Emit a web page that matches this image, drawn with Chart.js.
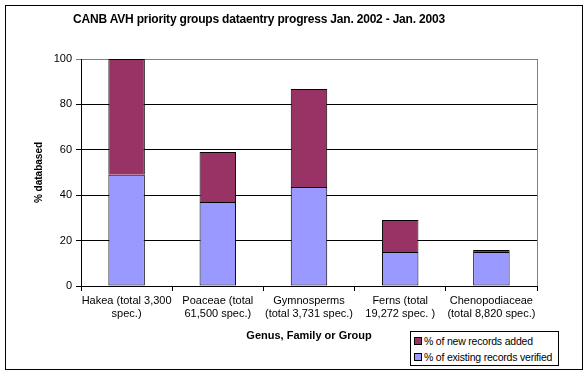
<!DOCTYPE html>
<html lang="en">
<head>
<meta charset="UTF-8">
<title>CANB AVH priority groups dataentry progress</title>
<style>
    body {
        margin: 0;
        background: #fff;
        font-family: 'Liberation Sans', Arial, sans-serif;
    }

    .wrap {
        position: relative;
        width: 586px;
        height: 374px;
    }

    .frame {
        position: absolute;
        left: 5px;
        top: 5px;
        width: 576px;
        height: 363px;
        border: 1px solid #000;
        pointer-events: none;
    }

    .title {
        position: absolute;
        left: 59px;
        width: 400px;
        top: 12px;
        text-align: center;
        font-weight: bold;
        font-size: 12px;
        white-space: nowrap;
        letter-spacing: -0.2px;
    }

    .legend {
        position: absolute;
        left: 410px;
        top: 331px;
        width: 149px;
        height: 35px;
        border: 1px solid #000;
        background: #fff;
        font-size: 10.5px;
        letter-spacing: -0.2px;
        padding: 1px 0 0 3px;
        box-sizing: border-box;
    }

    .legend div {
        height: 16px;
        line-height: 16px;
        white-space: nowrap;
    }

    .legend span {
        display: inline-block;
        width: 6px;
        height: 6px;
        border: 1px solid #000;
        margin-right: 2px;
    }
</style>
<script src="https://cdn.jsdelivr.net/npm/chart.js"></script>
</head>
<body>
<div class="wrap">
    <canvas id="chart" width="586" height="374"></canvas>
    <div class="frame"></div>
    <div class="title">CANB AVH priority groups dataentry progress Jan. 2002 - Jan. 2003</div>
    <div class="legend" id="legend"></div>
</div>

<script>
    // data
    const categories = [
        ['Hakea (total 3,300', 'spec.)'],
        ['Poaceae (total', '61,500 spec.)'],
        ['Gymnosperms', '(total 3,731 spec.)'],
        ['Ferns (total', '19,272 spec. )'],
        ['Chenopodiaceae', '(total 8,820 spec.)']
    ];
    const verified = [49, 37, 43.6, 15, 15];
    const added = [51, 22, 43.2, 14.1, 0.9];

    const seriesNames = ['% of existing records verified', '% of new records added'];
    const seriesColors = ['#9999FF', '#993366'];

    // plot box edges in the reference
    const plotLeft = 81, plotRight = 537, plotTop = 59, plotBottom = 286;

    const frameLines = {
        id: 'frameLines',
        afterDraw(chart) {
            const a = chart.chartArea, c = chart.ctx;
            c.save();
            c.strokeStyle = '#808080';
            c.lineWidth = 1;
            c.beginPath();
            c.moveTo(Math.round(a.right) + 0.5, a.top);
            c.lineTo(Math.round(a.right) + 0.5, a.bottom);
            c.stroke();
            c.restore();
        }
    };

    const font = { family: "'Liberation Sans', Arial, sans-serif", size: 11 };

    new Chart(document.getElementById('chart'), {
        type: 'bar',
        data: {
            labels: categories,
            datasets: [
                {
                    label: seriesNames[0],
                    data: verified,
                    backgroundColor: seriesColors[0],
                    borderColor: '#000',
                    borderWidth: 1,
                    borderSkipped: false
                },
                {
                    label: seriesNames[1],
                    data: added,
                    backgroundColor: seriesColors[1],
                    borderColor: '#000',
                    borderWidth: 1,
                    borderSkipped: 'bottom',
                    clip: false
                }
            ]
        },
        options: {
            responsive: false,
            animation: false,
            devicePixelRatio: 1,
            layout: { padding: { left: 0, right: 586 - plotRight, top: plotTop, bottom: 0 } },
            datasets: { bar: { barPercentage: 0.4, categoryPercentage: 1 } },
            plugins: {
                legend: { display: false },
                tooltip: { enabled: false }
            },
            scales: {
                x: {
                    stacked: true,
                    offset: true,
                    afterFit: s => { s.height = 374 - plotBottom; },
                    grid: { offset: true, drawOnChartArea: false, drawTicks: true, tickLength: 5, color: '#000' },
                    border: { color: '#000', width: 1 },
                    ticks: { color: '#000', font: font, maxRotation: 0, autoSkip: false, padding: 3 },
                    title: {
                        display: true,
                        text: 'Genus, Family or Group',
                        color: '#000',
                        font: { family: font.family, size: 11, weight: 'bold' },
                        padding: { top: 0, bottom: 31 }
                    }
                },
                y: {
                    stacked: true,
                    min: 0,
                    max: 100,
                    afterFit: s => { s.width = plotLeft; },
                    grid: {
                        color: c => (c.tick && c.tick.value === 100 ? '#808080' : '#000'),
                        tickLength: 5
                    },
                    border: { color: '#000', width: 1 },
                    ticks: { stepSize: 20, color: '#000', font: font, padding: 4 },
                    title: {
                        display: true,
                        text: '% databased',
                        color: '#000',
                        font: { family: font.family, size: 10, weight: 'bold' },
                        padding: { top: 33, bottom: 0 }
                    }
                }
            }
        },
        plugins: [frameLines]
    });

    // legend box, newest series on top as in the reference
    const legend = document.getElementById('legend');
    [1, 0].forEach(i => {
        const row = document.createElement('div');
        row.innerHTML = '<span style="background:' + seriesColors[i] + '"></span>' + seriesNames[i];
        legend.appendChild(row);
    });
</script>
</body>
</html>
